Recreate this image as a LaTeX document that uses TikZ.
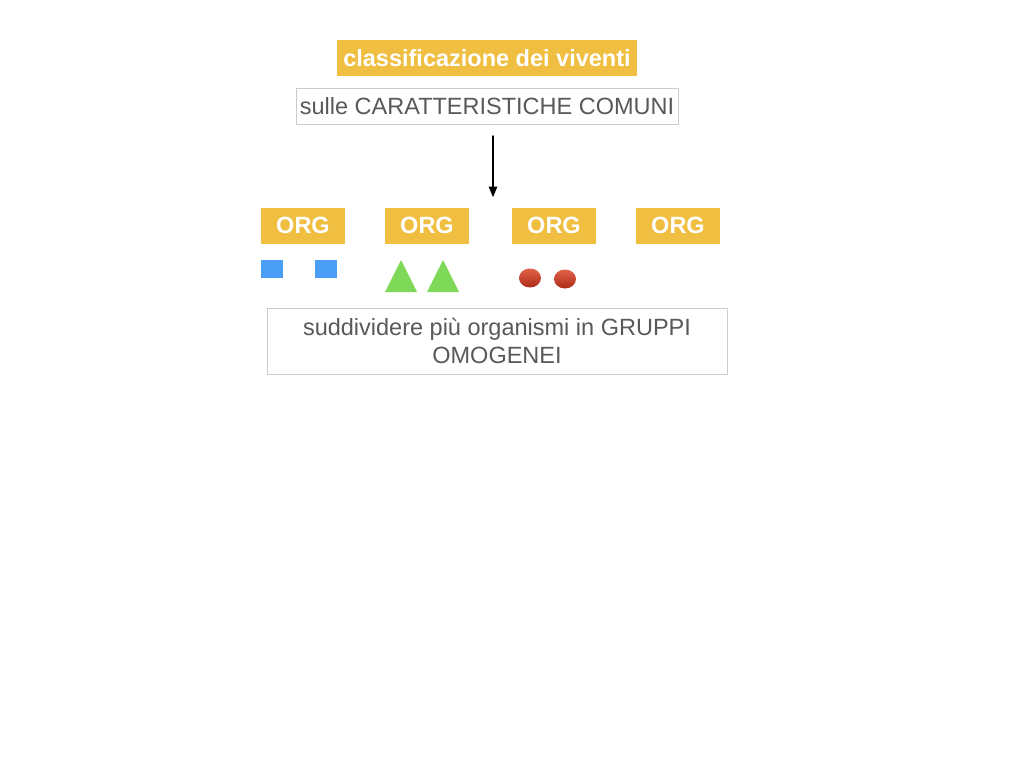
\documentclass[tikz,border=0pt]{standalone}
\usepackage{fontspec}
\setmainfont{Liberation Sans}
\usepackage{tikz}
\usetikzlibrary{arrows}
\definecolor{ffbfqq}{rgb}{0.94,0.745,0.255}
\definecolor{sssttt}{rgb}{0.35,0.35,0.35}
\definecolor{cccccc}{rgb}{0.8,0.8,0.8}
\definecolor{qqqqff}{rgb}{0.29,0.62,0.96}
\definecolor{qqccqq}{rgb}{0.49,0.85,0.34}
\definecolor{ccqqqq}{rgb}{0.82,0.27,0.18}
\definecolor{ffqqqq}{rgb}{0.88,0.38,0.28}
\definecolor{aaqqqq}{rgb}{0.68,0.17,0.10}
\tikzset{
  gialla/.style={fill=ffbfqq,text=white,font=\fontsize{23.5}{27}\selectfont\bfseries,inner sep=0pt,minimum height=36pt},
  grigia/.style={draw=cccccc,line width=1pt,fill=white,text=sssttt,font=\fontsize{23.5}{28}\selectfont,inner sep=0pt}
}
\begin{document}
\begin{tikzpicture}[line cap=round,line join=round,>=triangle 45,x=1pt,y=-1pt]
\useasboundingbox[fill=white] (0,0) rectangle (1024,768);
\node[gialla,minimum width=300pt] (titolo) at (487,58) {classificazione dei viventi};
\node[grigia,minimum width=382pt,minimum height=36pt] (sulle) at (487,106) {sulle CARATTERISTICHE COMUNI};
\coordinate (freccia1) at (493,136);
\coordinate (freccia2) at (493,197);
\draw[->,color=black,line width=1.4pt] (freccia1) -- (freccia2);
\node[gialla,minimum width=84pt] (org1) at (303,225.5) {ORG};
\node[gialla,minimum width=84pt] (org2) at (427,225.5) {ORG};
\node[gialla,minimum width=84pt] (org3) at (554,225.5) {ORG};
\node[gialla,minimum width=84pt] (org4) at (678,225.5) {ORG};
%\foreach organismi
\fill[qqqqff] (261,260) rectangle (283,278);
\fill[qqqqff] (315,260) rectangle (337,278);
\fill[qqccqq] (385,292) -- (401,260) -- (417,292) -- cycle;
\fill[qqccqq] (427,292) -- (443,260) -- (459,292) -- cycle;
\shade[top color=ffqqqq,bottom color=aaqqqq] (530,278) ellipse (11 and 9.5);
\shade[top color=ffqqqq,bottom color=aaqqqq] (565,279) ellipse (11 and 9.5);
\node[grigia,minimum width=460pt,minimum height=66pt,align=center] (gruppi) at (497,341) {suddividere più organismi in GRUPPI\\OMOGENEI};
\end{tikzpicture}
\end{document}
